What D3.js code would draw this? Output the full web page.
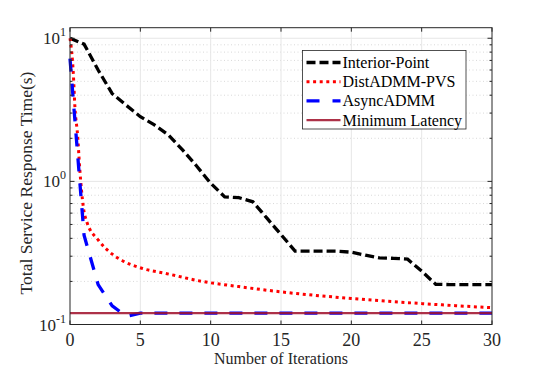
<!DOCTYPE html>
<html>
<head>
<meta charset="utf-8">
<script src="https://cdn.jsdelivr.net/npm/d3@7"></script>
<style>
  body { margin: 0; background: #fff; }
  svg { display: block; font-family: "Liberation Serif", "Times New Roman", serif; }
</style>
</head>
<body>
<svg id="chart" width="545" height="368"></svg>
<script>
// values
var ipIter = [0,1,2,3,4,5,6,7,8,9,10,11,12,13,14,15,16,17,18,19,20,21,22,23,24,25,26,27,28,29,30];
var ipTime = [10,9.1,6.0,4.1,3.4,2.83,2.48,2.11,1.66,1.28,0.97,0.78,0.77,0.72,0.553,0.425,0.326,0.326,0.326,0.325,0.32,0.305,0.292,0.29,0.286,0.236,0.191,0.19,0.19,0.19,0.19];

var distIter = [0,0.23,0.35,0.54,0.7,0.95,1.2,2,3,3.7,5.1,6.75,9.4,12,15,20,25,30];
var distTime = [10,5.8,3.3,2.1,1.2,0.66,0.52,0.39,0.31,0.28,0.247,0.228,0.2,0.184,0.169,0.152,0.14,0.131];

var asyncIter = [0,1,2,3,4,5,10,15,20,25,30];
var asyncTime = [7.2,0.42,0.19,0.135,0.114,0.12,0.12,0.12,0.12,0.12,0.12];

var minLatency = 0.12;

var xTicks = [0,5,10,15,20,25,30];
var yMajor = [0.1,1,10];
var yLabels = ["-1","0","1"];

var legendNames = ["Interior-Point","DistADMM-PVS","AsyncADMM","Minimum Latency"];

var W = 545, H = 368;
var m = {left: 70, right: 53, top: 27.7, bottom: 43.5};

var svg = d3.select("#chart");

var x = d3.scaleLinear().domain([0,30]).range([m.left, W - m.right]);
var y = d3.scaleLog().domain([0.1, 11.85]).range([H - m.bottom, m.top]);

var yMinor = [];
[-1,0,1].forEach(function(k) {
  for (var i = 2; i <= 9; i++) {
    var v = i * Math.pow(10, k);
    if (v < 11.85) yMinor.push(v);
  }
});

var grid = svg.append("g");
// minor dotted grid
grid.selectAll("line.minor")
  .data(yMinor).enter().append("line")
  .attr("x1", m.left).attr("x2", W - m.right)
  .attr("y1", function(d) { return y(d); })
  .attr("y2", function(d) { return y(d); })
  .attr("stroke", "#c8c8c8").attr("stroke-width", 0.7)
  .attr("stroke-dasharray", "1,2.5");
// major grid
grid.selectAll("line.vx")
  .data(xTicks.slice(1, -1)).enter().append("line")
  .attr("x1", function(d) { return x(d); })
  .attr("x2", function(d) { return x(d); })
  .attr("y1", m.top).attr("y2", H - m.bottom)
  .attr("stroke", "#e6e6e6").attr("stroke-width", 1);
grid.selectAll("line.hy")
  .data([1,10]).enter().append("line")
  .attr("x1", m.left).attr("x2", W - m.right)
  .attr("y1", function(d) { return y(d); })
  .attr("y2", function(d) { return y(d); })
  .attr("stroke", "#e6e6e6").attr("stroke-width", 1);

// series
var line = d3.line()
  .x(function(d) { return x(d[0]); })
  .y(function(d) { return y(d[1]); });

var plot = svg.append("g");

plot.append("path")
  .datum(ipIter.map(function(v, i) { return [v, ipTime[i]]; }))
  .attr("d", line)
  .attr("fill", "none").attr("stroke", "#000").attr("stroke-width", 3.3)
  .attr("stroke-dasharray", "9,4");

plot.append("path")
  .datum(distIter.map(function(v, i) { return [v, distTime[i]]; }))
  .attr("d", line.curve(d3.curveMonotoneX))
  .attr("fill", "none").attr("stroke", "#ff0000").attr("stroke-width", 3)
  .attr("stroke-dasharray", "3,3.6");
line.curve(d3.curveLinear);

plot.append("path")
  .datum(asyncIter.map(function(v, i) { return [v, asyncTime[i]]; }))
  .attr("d", line)
  .attr("fill", "none").attr("stroke", "#0000ff").attr("stroke-width", 3.3)
  .attr("stroke-dasharray", "13,12");

plot.append("line")
  .attr("x1", x(0)).attr("x2", x(30))
  .attr("y1", y(minLatency)).attr("y2", y(minLatency))
  .attr("stroke", "#a2142f").attr("stroke-width", 2.3)
  .attr("stroke-opacity", 0.88);

// axes box
var ax = svg.append("g").attr("stroke", "#262626").attr("stroke-width", 1).attr("fill", "none");
ax.append("rect")
  .attr("x", m.left).attr("y", m.top)
  .attr("width", W - m.left - m.right).attr("height", H - m.top - m.bottom);

// x ticks bottom and top (inward)
xTicks.forEach(function(t) {
  ax.append("line").attr("x1", x(t)).attr("x2", x(t))
    .attr("y1", H - m.bottom).attr("y2", H - m.bottom - 4);
  ax.append("line").attr("x1", x(t)).attr("x2", x(t))
    .attr("y1", m.top).attr("y2", m.top + 4);
});
// y ticks left and right
yMajor.concat(yMinor).forEach(function(t) {
  var len = yMajor.indexOf(t) >= 0 ? 4.5 : 2.5;
  ax.append("line").attr("x1", m.left).attr("x2", m.left + len)
    .attr("y1", y(t)).attr("y2", y(t));
  ax.append("line").attr("x1", W - m.right).attr("x2", W - m.right - len)
    .attr("y1", y(t)).attr("y2", y(t));
});

// tick labels
svg.append("g").selectAll("text")
  .data(xTicks).enter().append("text")
  .attr("x", function(d) { return x(d); })
  .attr("y", H - m.bottom + 21.5)
  .attr("text-anchor", "middle")
  .attr("font-size", 18).attr("fill", "#262626")
  .text(function(d) { return d; });

var yl = svg.append("g").selectAll("text")
  .data(yMajor).enter().append("text")
  .attr("x", m.left - 4)
  .attr("y", function(d) { return y(d) + 6; })
  .attr("text-anchor", "end")
  .attr("font-size", 17).attr("fill", "#262626");
yl.append("tspan").text("10");
yl.append("tspan")
  .attr("dy", -8).attr("font-size", 12)
  .text(function(d, i) { return yLabels[i]; });

// axis titles
svg.append("text")
  .attr("x", (m.left + W - m.right) / 2)
  .attr("y", H - 4.5)
  .attr("text-anchor", "middle")
  .attr("font-size", 16).attr("fill", "#262626")
  .text("Number of Iterations");

svg.append("text")
  .attr("transform", "translate(32,183) rotate(-90)")
  .attr("text-anchor", "middle")
  .attr("font-size", 17.5).attr("fill", "#262626")
  .text("Total Service Response Time(s)");

// legend
var lg = svg.append("g").attr("transform", "translate(302.5,50.5)");
lg.append("rect")
  .attr("width", 163.5).attr("height", 78.5)
  .attr("fill", "#fff").attr("stroke", "#262626").attr("stroke-width", 0.8);

var legStyle = [
  {c: "#000", w: 3.3, d: "9,4", o: 1},
  {c: "#ff0000", w: 3, d: "3,3.6", o: 1},
  {c: "#0000ff", w: 3.3, d: "13,13", o: 1},
  {c: "#a2142f", w: 2.3, d: null, o: 0.88}
];
legendNames.forEach(function(name, i) {
  var cy = 12 + i * 19.2;
  lg.append("line")
    .attr("x1", 4).attr("x2", 38)
    .attr("y1", cy).attr("y2", cy)
    .attr("stroke", legStyle[i].c).attr("stroke-width", legStyle[i].w)
    .attr("stroke-dasharray", legStyle[i].d)
    .attr("stroke-opacity", legStyle[i].o);
  lg.append("text")
    .attr("x", 40).attr("y", cy + 5.5)
    .attr("font-size", 16).attr("fill", "#000")
    .text(name);
});
</script>
</body>
</html>
